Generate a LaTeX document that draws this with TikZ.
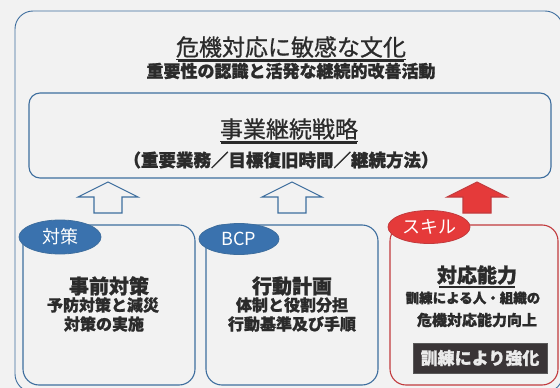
\documentclass[tikz,border=0pt]{standalone}
\usepackage{fontspec}
\setmainfont{Noto Sans CJK JP}[BoldFeatures={FakeBold=1.1}]
\newfontfamily\jpttl{Noto Sans CJK JP}[FakeBold=0.8]
\usetikzlibrary{shapes.geometric}
\definecolor{bg}{HTML}{F2F2F2}
\definecolor{bluel}{HTML}{3E6E9E}
\definecolor{bluef}{HTML}{3A72AE}
\definecolor{redf}{HTML}{E53A3A}
\definecolor{redl}{HTML}{C23B3E}
\definecolor{txt}{HTML}{2B2B2B}
\definecolor{darkbox}{HTML}{3A3537}
\newcommand{\myul}[1]{\underline{#1}}
\tikzset{
  box/.style={draw=bluel, line width=1.1pt, rounded corners=14pt, fill=bg, inner sep=0pt},
  tag/.style={ellipse, draw=#1, line width=0.8pt, inner sep=0pt, text=white, font=\fontsize{18}{18}\selectfont},
  ttl/.style={inner sep=0pt, text=txt, font=\fontsize{23}{23}\jpttl},
  sub/.style={inner sep=0pt, text=txt, font=\fontsize{17}{17}\selectfont\bfseries},
  hd/.style={inner sep=0pt, text=txt, font=\fontsize{20}{20}\selectfont\bfseries},
  ln/.style={inner sep=0pt, text=txt, font=\fontsize{16}{16}\selectfont\bfseries},
  ubar/.style={fill=txt, draw=none},
  uparrow/.pic={\path[pic actions] (0,0) -- (30,15) -- (14,15) -- (14,31) -- (-14,31) -- (-14,15) -- (-30,15) -- cycle;}
}
\begin{document}
\begin{tikzpicture}[x=1pt,y=-1pt]
\useasboundingbox (0,0) rectangle (560,388);
\fill[bg] (0,0) rectangle (560,388);
% outer culture box
\node[box, line width=0.9pt, rounded corners=18pt, minimum width=548pt, minimum height=381pt] (outer) at (289,201.5) {};
% strategy box
\node[box, rounded corners=11pt, minimum width=522pt, minimum height=85pt] (strat) at (290,135.5) {};
% bottom boxes
\node[box, rounded corners=16pt, minimum width=172pt, minimum height=160pt] (b1) at (109,305) {};
\node[box, rounded corners=16pt, minimum width=172pt, minimum height=160pt] (b2) at (292,305) {};
\node[box, draw=redl, rounded corners=16pt, minimum width=168pt, minimum height=160pt] (b3) at (474,305) {};
% titles (underlined)
\node[ttl] (t1) at (291,48) {\myul{危機対応に敏感な文化}};
\node[sub] (s1) at (291,71) {重要性の認識と活発な継続的改善活動};
\node[ttl] (t2) at (289,130) {\myul{事業継続戦略}};
\node[sub, font=\fontsize{17.5}{17.5}\selectfont\bfseries] (s2) at (281,160) {（重要業務／目標復旧時間／継続方法）};
\fill[ubar] (178,60.3) rectangle (404,61.8);
\fill[ubar] (221,142.3) rectangle (357,143.8);
% arrows
\pic[draw=bluel, line width=1.1pt, fill=bg] (p1) at (108,182) {uparrow};
\pic[draw=bluel, line width=1.1pt, fill=bg] (p2) at (292,182) {uparrow};
\pic[draw=redl, line width=1.1pt, fill=redf] (p3) at (477,182) {uparrow};
% tags
\node[tag=bluel, fill=bluef, minimum width=82pt, minimum height=34pt] (e1) at (60,237) {対策};
\node[tag=bluel, fill=bluef, minimum width=80pt, minimum height=31pt] (e2) at (239,239) {BCP};
\node[tag=redl, fill=redf, minimum width=82pt, minimum height=33pt] (e3) at (429,227) {スキル};
% box 1 text
\node[hd] (h1) at (109,286) {事前対策};
\node[ln] (l11) at (103,305) {予防対策と減災};
\node[ln] (l12) at (104,324) {対策の実施};
% box 2 text
\node[hd] (h2) at (292,286) {行動計画};
\node[ln] (l21) at (292,305) {体制と役割分担};
\node[ln] (l22) at (292,324) {行動基準及び手順};
% box 3 text
\node[hd] (h3) at (477,275) {対応能力};
\fill[ubar] (439,286.3) rectangle (515,287.8);
\node[ln, font=\fontsize{13.5}{13.5}\selectfont\bfseries] (l31) at (473,298) {訓練による人・組織の};
\node[ln, font=\fontsize{15}{15}\selectfont\bfseries] (l32) at (477,320) {危機対応能力向上};
\node[draw=gray!70!black, line width=0.8pt, fill=darkbox, text=white!92!black, inner sep=0pt, minimum width=134pt, minimum height=30pt, font=\fontsize{17}{17}\selectfont\bfseries] (d3) at (480,358) {訓練により強化};
\end{tikzpicture}
\end{document}
